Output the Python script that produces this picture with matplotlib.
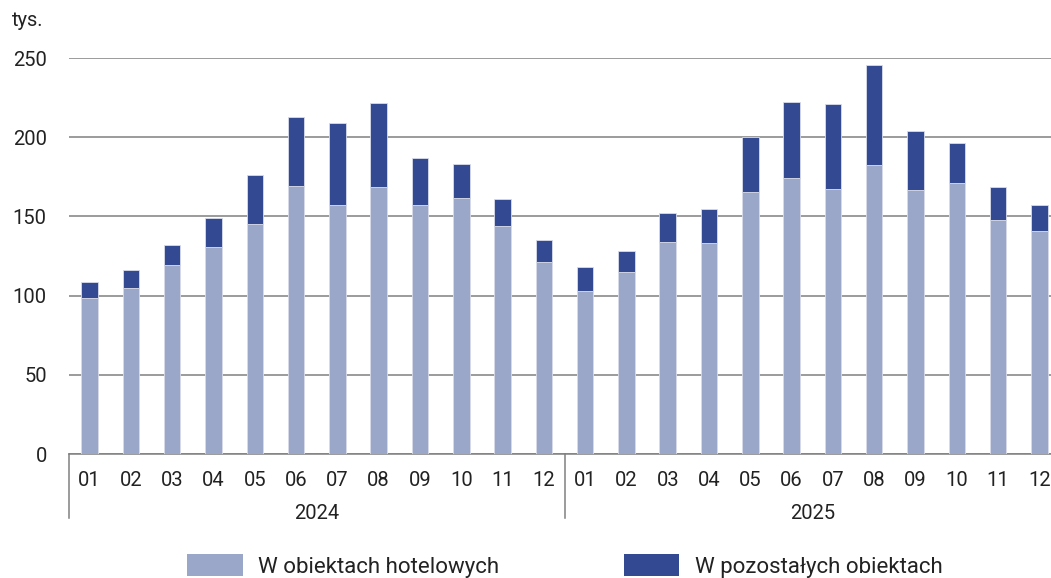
import matplotlib.pyplot as plt
from matplotlib.patches import Patch
import numpy as np

plt.rcParams['font.family'] = ['Roboto', 'DejaVu Sans']

# =====================================
# DATA (thousands)
# =====================================

months = ["01", "02", "03", "04", "05", "06", "07", "08", "09", "10", "11", "12"]
years = ["2024", "2025"]

hotel = [98.4, 105.1, 119.4, 130.4, 145.5, 169.0, 157.1, 168.6, 157.5, 161.7, 143.8, 121.1,
         103.2, 114.8, 134.1, 132.9, 165.5, 174.1, 167.6, 182.7, 166.5, 171.4, 148.0, 140.7]
total = [108.9, 116.3, 132.0, 148.9, 176.4, 212.6, 209.0, 221.4, 186.9, 183.1, 161.3, 135.0,
         118.0, 128.3, 152.0, 154.8, 200.4, 222.5, 221.2, 245.8, 203.7, 196.4, 168.8, 157.3]
other = [t - h for t, h in zip(total, hotel)]

light = "#9aa7c9"
dark = "#334a93"
text_col = "#222222"
fs = 14.5

# =====================================
# FIGURE
# =====================================

W, H = 1051, 578
fig = plt.figure(figsize=(W / 100, H / 100), dpi=100)
ax = fig.add_axes([69 / W, (H - 454) / H, (1060 - 69) / W, (454 - 58) / H])

x = np.arange(len(hotel))
ax.bar(x, hotel, width=0.4, color=light, edgecolor="#d8dcea", linewidth=0.6, zorder=3)
ax.bar(x, other, width=0.4, bottom=hotel, color=dark, edgecolor="#d8dcea", linewidth=0.6, zorder=3)

ax.set_xlim(-0.5, len(hotel) - 0.5)
ax.set_ylim(0, 250)
ax.set_yticks([0, 50, 100, 150, 200, 250])
ax.yaxis.grid(True, color="#808080", linewidth=1.1)
ax.set_axisbelow(True)

for s in ["top", "right", "left"]:
    ax.spines[s].set_visible(False)
ax.spines["bottom"].set_color("#808080")
ax.spines["bottom"].set_linewidth(1.1)

ax.tick_params(axis="y", length=0, pad=16, labelsize=fs, labelcolor=text_col)
ax.tick_params(axis="x", length=0, pad=12, labelsize=fs, labelcolor=text_col)
ax.set_xticks(x)
ax.set_xticklabels(months * len(years))

# year labels and group separators
trans = ax.get_xaxis_transform()
for i, yr in enumerate(years):
    ax.text(i * 12 + 5.5, -0.149, yr, transform=trans, ha="center", va="center",
            fontsize=fs, color=text_col)
for b in range(len(years) + 1):
    ax.plot([b * 12 - 0.5, b * 12 - 0.5], [0, -0.162], transform=trans,
            color="#808080", linewidth=1.1, clip_on=False)

fig.text(12 / W, 1 - 20 / H, "tys.", fontsize=fs, color=text_col, va="center")

handles = [Patch(facecolor=light, edgecolor="none"), Patch(facecolor=dark, edgecolor="none")]
fig.legend(handles, ["W obiektach hotelowych", "W pozostałych obiektach"],
           loc="center", bbox_to_anchor=(565 / W, 1 - 566 / H), ncol=2, frameon=False,
           fontsize=16, handlelength=2.5, handleheight=1.15, handletextpad=0.7,
           columnspacing=5.6, labelcolor=text_col)

fig.savefig("out.png", dpi=100)
